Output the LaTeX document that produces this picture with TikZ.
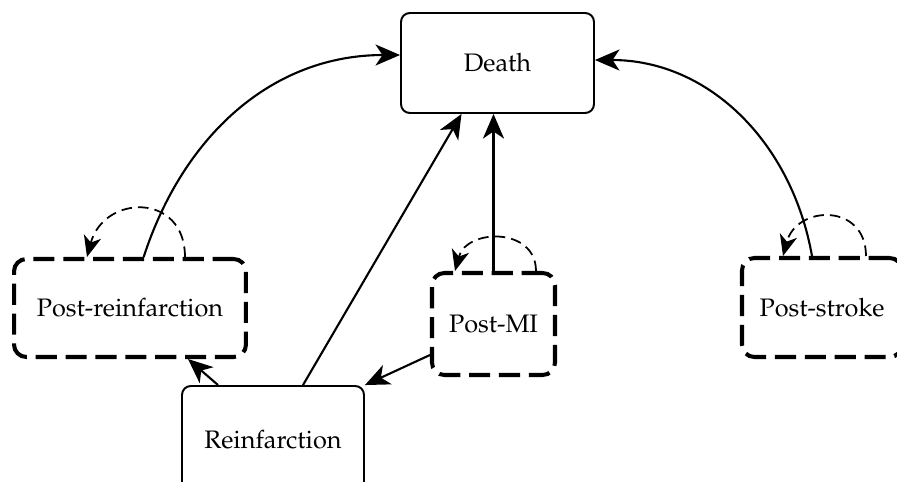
\documentclass[tikz,border=0pt]{standalone}
\usepackage[T1]{fontenc}
\usepackage{mathpazo}
\usetikzlibrary{arrows.meta}

\tikzset{
  state/.style={draw, line width=1.1pt, rounded corners=5pt, font=\Large},
  tunnel/.style={draw, line width=2.3pt, dash pattern=on 12pt off 5pt, rounded corners=7pt, font=\Large},
  trans/.style={line width=1.2pt, -{Stealth[length=14pt,width=12pt,inset=4pt]}},
  stay/.style={line width=1pt, dash pattern=on 6pt off 3.5pt, -{Stealth[length=12pt,width=10pt,inset=3.5pt]}}
}

\begin{document}
\begin{tikzpicture}[x=0.02cm, y=-0.02cm]
    % frame of the picture, boxes at the edge are cut
    \useasboundingbox (0,0) rectangle (897,481);
    \clip (0,0) rectangle (897,481);

    \node [state, minimum width=3.86cm, minimum height=2cm] (death) at (497.5,63) {Death};
    \node [tunnel, minimum width=4.64cm, minimum height=1.96cm] (postre) at (130,308) {Post-reinfarction};
    \node [tunnel, minimum width=2.46cm, minimum height=2.04cm] (postmi) at (493.5,324) {Post-MI};
    \node [tunnel, minimum width=3.2cm, minimum height=1.98cm] (poststroke) at (822,307.5) {Post-stroke};
    \node [state, minimum width=3.64cm, minimum height=2.16cm] (reinf) at (273,440) {Reinfarction};

    % transitions to death
    \draw [trans] (postre.75) to[out=72, in=180] ([yshift=0.16cm]death.west);
    \draw [trans] (poststroke.101) to[out=100, in=0] ([yshift=0.06cm]death.east);
    \draw [trans] (postmi.north) -- (postmi.north |- death.south);
    \draw [trans] ([xshift=0.6cm]reinf.north) -- ([xshift=-0.72cm]death.south);

    % other transitions
    \draw [trans] ([yshift=-0.62cm]postmi.west) -- (reinf.north east);
    \draw [trans] ([xshift=-1.1cm]reinf.north) -- ([xshift=1.16cm]postre.south);

    % staying in the same state
    \draw [stay] ([xshift=1.1cm]postre.north) to[out=90, in=75, looseness=1.7] ([xshift=-0.86cm]postre.north);
    \draw [stay] ([xshift=0.85cm]postmi.north) to[out=90, in=75, looseness=1.4] ([xshift=-0.77cm]postmi.north);
    \draw [stay] ([xshift=0.88cm]poststroke.north) to[out=90, in=75, looseness=1.64] ([xshift=-0.78cm]poststroke.north);
\end{tikzpicture}
\end{document}
